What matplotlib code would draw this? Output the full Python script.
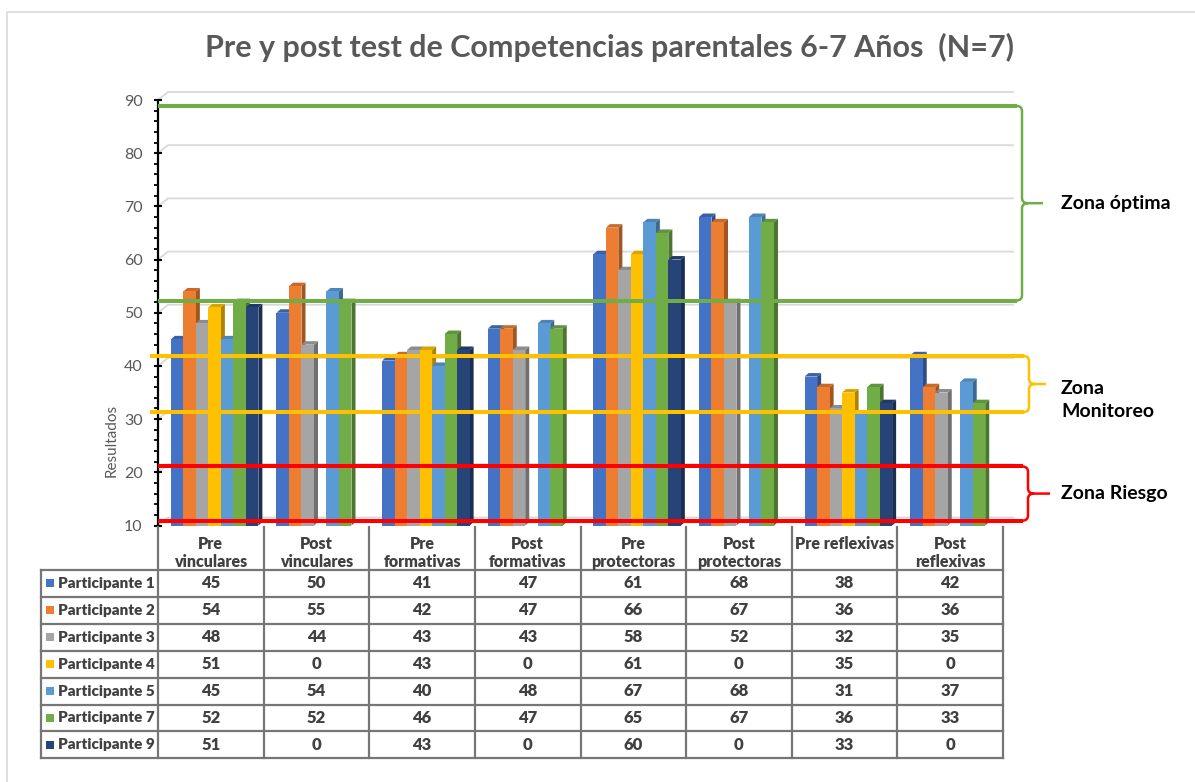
import matplotlib
matplotlib.use('Agg')
import matplotlib.pyplot as plt
from matplotlib.patches import Rectangle, Polygon, PathPatch
from matplotlib.path import Path
from matplotlib.transforms import blended_transform_factory as blend
import matplotlib.colors as mcolors

# ---------------- data ----------------
categories = ["Pre\nvinculares", "Post\nvinculares", "Pre\nformativas", "Post\nformativas",
              "Pre\nprotectoras", "Post\nprotectoras", "Pre reflexivas", "Post\nreflexivas"]
participants = ["Participante 1", "Participante 2", "Participante 3", "Participante 4",
                "Participante 5", "Participante 7", "Participante 9"]
p1 = [45, 50, 41, 47, 61, 68, 38, 42]
p2 = [54, 55, 42, 47, 66, 67, 36, 36]
p3 = [48, 44, 43, 43, 58, 52, 32, 35]
p4 = [51, 0, 43, 0, 61, 0, 35, 0]
p5 = [45, 54, 40, 48, 67, 68, 31, 37]
p7 = [52, 52, 46, 47, 65, 67, 36, 33]
p9 = [51, 0, 43, 0, 60, 0, 33, 0]
series = [p1, p2, p3, p4, p5, p7, p9]
colors = ["#4472C4", "#ED7D31", "#A5A5A5", "#FFC000", "#5B9BD5", "#70AD47", "#264478"]

zone_labels = ["Zona óptima", "Zona\nMonitoreo", "Zona Riesgo"]
zone_low = [52.3, 31.3, 10.9]
zone_high = [88.9, 41.9, 21.1]
zone_colors = ["#70AD47", "#FFC000", "#FF0000"]

title = "Pre y post test de Competencias parentales 6-7 Años  (N=7)"
ylabel = "Resultados"
y_min, y_max = 10, 90

# ---------------- layout ----------------
W, H = 1195, 782
plt.rcParams['font.family'] = ['Lato', 'DejaVu Sans']
fig = plt.figure(figsize=(W / 100, H / 100), dpi=100)

AX_L, AX_R, AX_T, AX_B = 158, 1003, 100, 525.5
ax = fig.add_axes([AX_L / W, 1 - AX_B / H, (AX_R - AX_L) / W, (AX_B - AX_T) / H])
ov = fig.add_axes([0, 0, 1, 1], zorder=5)
ov.set_xlim(0, W)
ov.set_ylim(H, 0)
ov.axis('off')
ov.patch.set_visible(False)

ncat = len(categories)
ax.set_xlim(-0.5, ncat - 0.5)
ax.set_ylim(y_min, y_max)
px_cat = (AX_R - AX_L) / ncat
px_unit = (AX_B - AX_T) / (y_max - y_min)

# axis styling
for s in ['top', 'right', 'bottom']:
    ax.spines[s].set_visible(False)
ax.spines['left'].set_linewidth(1.6)
ax.spines['left'].set_color('black')
ax.set_xticks([])
ax.set_yticks(range(10, 91, 10))
ax.set_yticks(range(10, 91, 2), minor=True)
ax.tick_params(axis='y', which='major', direction='inout', length=6, width=1.5,
               labelsize=11.5, labelcolor='#595959', pad=8)
ax.tick_params(axis='y', which='minor', direction='out', length=3, width=1.3)
ax.patch.set_visible(False)

# 3D back wall gridlines
gdx = 10 / px_cat
gdy = 8 / px_unit
for v in range(10, 91, 10):
    ax.plot([-0.5, -0.5 + gdx, ncat - 0.5 + gdx], [v, v + gdy, v + gdy],
            color='#D9D9D9', lw=1.3, clip_on=False, zorder=0)

# 3D bars
bw = 12.5 / px_cat
dx = 4 / px_cat
dy = 3.5 / px_unit
shift = 3.8 / px_cat
nser = len(series)
for i in range(ncat):
    start = i - nser * bw / 2 + shift
    for j, vals in enumerate(series):
        v = vals[i]
        if v <= y_min:
            continue
        x = start + j * bw
        c = mcolors.to_rgb(colors[j])
        side = tuple(k * 0.68 for k in c)
        top = tuple(k * 0.85 for k in c)
        z = 2 + j * 0.1
        ax.add_patch(Polygon([(x + bw, y_min), (x + bw + dx, y_min + dy), (x + bw + dx, v + dy), (x + bw, v)],
                             closed=True, facecolor=side, edgecolor='none', zorder=z, clip_on=False))
        ax.add_patch(Polygon([(x, v), (x + dx, v + dy), (x + bw + dx, v + dy), (x + bw, v)],
                             closed=True, facecolor=top, edgecolor='none', zorder=z, clip_on=False))
        ax.add_patch(Rectangle((x, y_min), bw, v - y_min, facecolor=c, edgecolor='none', zorder=z + 0.01))

# ---------------- zone lines & braces ----------------
bt = blend(ov.transData, ax.transData)
zone_x0 = [158, 150, 158]
zone_xb = [1022, 1029, 1028]
zone_tip = [1043, 1046, 1050]
for k in range(3):
    lo, hi, col = zone_low[k], zone_high[k], zone_colors[k]
    xb = zone_xb[k]
    for yv in (lo, hi):
        ov.plot([zone_x0[k], xb - 5], [yv, yv], color=col, lw=2.9, transform=bt,
                solid_capstyle='butt', zorder=10)
    mid = (lo + hi) / 2
    r = 1.0
    verts = [(xb - 6, hi), (xb, hi), (xb, hi - r), (xb, mid + r), (xb, mid), (xb + 6, mid),
             (zone_tip[k], mid),
             (xb + 6, mid), (xb, mid), (xb, mid - r), (xb, lo + r), (xb, lo), (xb - 6, lo)]
    codes = [Path.MOVETO, Path.CURVE3, Path.CURVE3, Path.LINETO, Path.CURVE3, Path.CURVE3,
             Path.LINETO,
             Path.MOVETO, Path.CURVE3, Path.CURVE3, Path.LINETO, Path.CURVE3, Path.CURVE3]
    ov.add_patch(PathPatch(Path(verts, codes), facecolor='none', edgecolor=col, lw=1.8,
                           transform=bt, zorder=10))

zfs = 14
ov.text(1061, (zone_low[0] + zone_high[0]) / 2, zone_labels[0], transform=bt, fontsize=zfs,
        fontweight='bold', color='black', va='center', ha='left')
ov.text(1061, (zone_low[1] + zone_high[1]) / 2 + 0.7, zone_labels[1], transform=bt, fontsize=zfs,
        fontweight='bold', color='black', va='top', ha='left', linespacing=1.38)
ov.text(1061, (zone_low[2] + zone_high[2]) / 2, zone_labels[2], transform=bt, fontsize=zfs,
        fontweight='bold', color='black', va='center', ha='left')

# ---------------- titles ----------------
ov.text(610, 47, title, fontsize=22, fontweight='bold', color='#595959', ha='center', va='center')
ov.text(112, 440, ylabel, fontsize=11, color='#595959', rotation=90, ha='center', va='center')

# border
ov.plot([7, 7, W], [H, 12, 12], color='#D9D9D9', lw=1.2)

# ---------------- data table ----------------
tx = blend(ax.transData, ov.transData)
T_TOP, H_BOT, ROW_H = 527, 570, 26.9
LBL_L = 41
nrows = len(participants)
T_BOT = H_BOT + nrows * ROW_H
gc = '#767676'
glw = 1.6
for k in range(ncat + 1):
    ov.plot([k - 0.5, k - 0.5], [T_TOP, T_BOT], color=gc, lw=glw, transform=tx, zorder=3)
ov.plot([LBL_L, LBL_L], [H_BOT, T_BOT], color=gc, lw=glw, zorder=3)
for r in range(nrows + 1):
    yy = H_BOT + r * ROW_H
    ov.plot([LBL_L, AX_R], [yy, yy], color=gc, lw=glw, zorder=3)

tw = 'heavy'
for i, cat in enumerate(categories):
    ov.text(i, 536, cat, transform=tx, ha='center', va='top', fontsize=11.5, fontweight=tw,
            color='#404040', linespacing=1.15)
for r, (name, vals) in enumerate(zip(participants, series)):
    yc = H_BOT + (r + 0.5) * ROW_H
    ov.add_patch(Rectangle((46, yc - 4), 8, 8, facecolor=colors[r], edgecolor='none'))
    ov.text(58, yc, name, fontsize=11, fontweight=tw, color='#404040', ha='left', va='center')
    for i, v in enumerate(vals):
        ov.text(i, yc, str(v), transform=tx, fontsize=12, fontweight=tw, color='#404040',
                ha='center', va='center')

fig.savefig('out.png', dpi=100)
